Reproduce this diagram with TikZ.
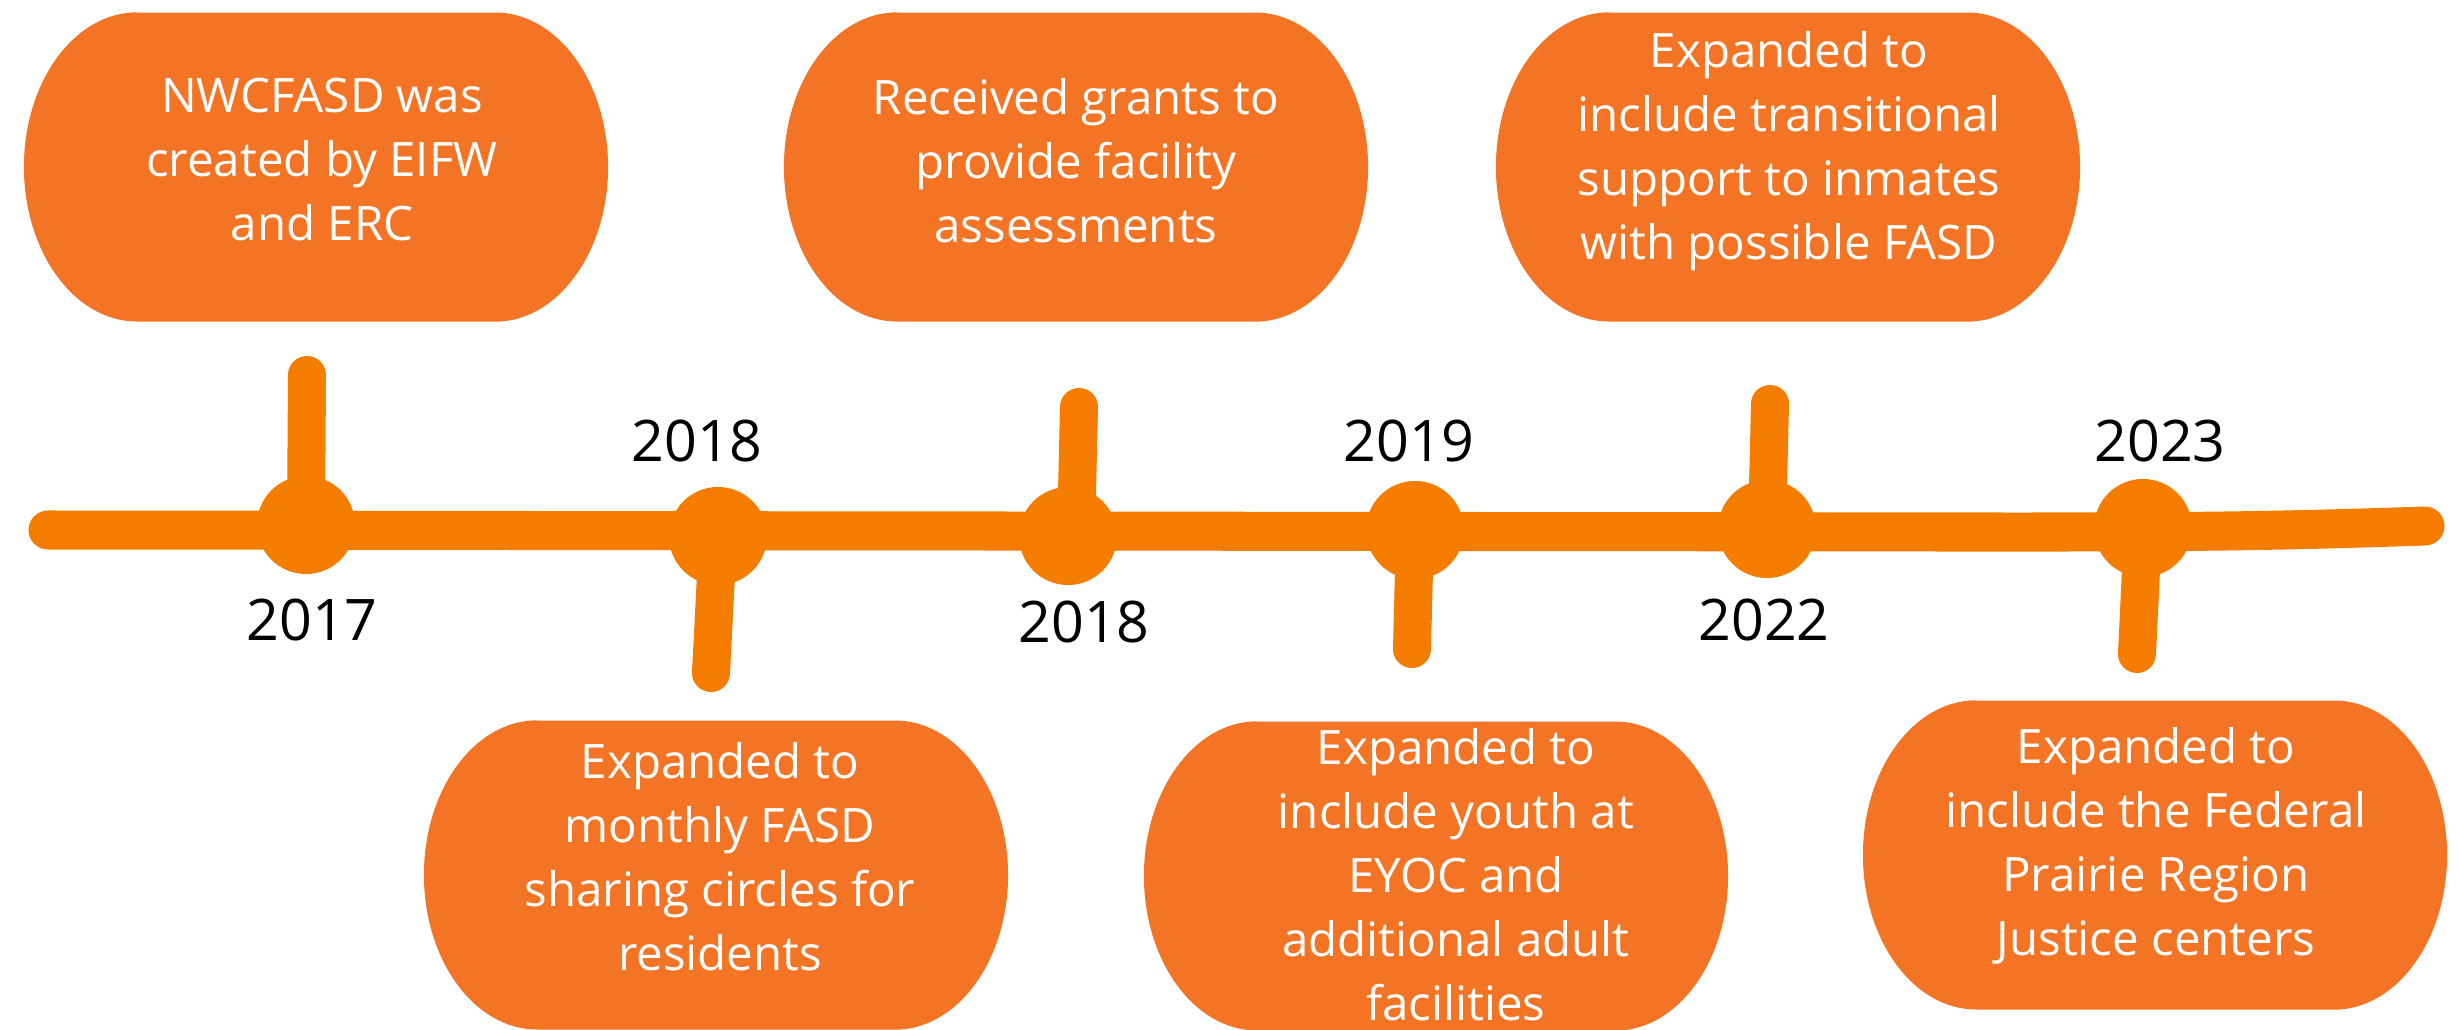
\documentclass[tikz,border=0pt]{standalone}
\usepackage{fontspec}
\setmainfont{Open Sans}
\definecolor{bubbleorange}{RGB}{242,116,36}
\definecolor{lineorange}{RGB}{244,125,0}
\tikzset{
	timeline/.style={line width=0.39cm, line cap=round, lineorange},
	tick/.style={line width=0.38cm, line cap=round, lineorange},
	dot/.style={circle, fill=lineorange, inner sep=0pt, minimum size=0.98cm},
	year/.style={font=\fontsize{16.3}{19}\selectfont, inner sep=0pt},
	bubbletext/.style={white, align=center, inner sep=0pt, font=\fontsize{13.5}{18.2}\selectfont,
		execute at begin node=\strut, execute at end node=\strut},
}
\begin{document}
\begin{tikzpicture}[x=0.01cm, y=0.01cm]
	\useasboundingbox (0,0) rectangle (2459,1029);
	\clip (0,0) rectangle (2459,1029);
	\foreach \cx/\cy in {316/862, 1076/862, 1788/862, 716/154, 1436/153, 2155/174}
		\fill[bubbleorange] (\cx-179,\cy+154.5) -- (\cx+179,\cy+154.5)
			arc[start angle=90, end angle=-90, x radius=1.13cm, y radius=1.545cm]
			-- (\cx-179,\cy-154.5)
			arc[start angle=270, end angle=90, x radius=1.13cm, y radius=1.545cm] -- cycle;
	\node[bubbletext] (n2017) at (322,860) {NWCFASD was\\created by EIFW\\and ERC};
	\node[bubbletext] (n2018b) at (1076,859) {Received grants to\\provide facility\\assessments};
	\node[bubbletext] (n2022) at (1789,874) {Expanded to\\include transitional\\support to inmates\\with possible FASD};
	\node[bubbletext] (n2018a) at (720,163) {Expanded to\\monthly FASD\\sharing circles for\\residents};
	\node[bubbletext] (n2019) at (1456,145) {Expanded to\\include youth at\\EYOC and\\additional adult\\facilities};
	\node[bubbletext] (n2023) at (2156,178) {Expanded to\\include the Federal\\Prairie Region\\Justice centers};
	\coordinate (lineL) at (48,499);
	\coordinate (lineM) at (1950,497);
	\coordinate (lineR) at (2425,503);
	\draw[timeline] (lineL) -- (lineM) to[out=0, in=182] (lineR);
	\node[dot] (d2017) at (306,504) {};
	\node[dot] (d2018a) at (718,493) {};
	\node[dot] (d2018b) at (1068,493) {};
	\node[dot] (d2019) at (1415,499) {};
	\node[dot] (d2022) at (1767,500) {};
	\node[dot] (d2023) at (2143,501) {};
	\coordinate (t2017) at (307,654);
	\coordinate (t2018a) at (711,356);
	\coordinate (t2018b) at (1079,622);
	\coordinate (t2019) at (1412,380);
	\coordinate (t2022) at (1770,625);
	\coordinate (t2023) at (2137,375);
	\draw[tick] (d2017.center) -- (t2017);
	\draw[tick] (d2018a.center) -- (t2018a);
	\draw[tick] ([xshift=0.08cm]d2018b.center) -- (t2018b);
	\draw[tick] (d2019.center) -- (t2019);
	\draw[tick] (d2022.center) -- (t2022);
	\draw[tick] (d2023.center) -- (t2023);
	\node[year] (y2017) at (312,409) {2017};
	\node[year] (y2018a) at (697,588) {2018};
	\node[year] (y2018b) at (1084,407) {2018};
	\node[year] (y2019) at (1409,588) {2019};
	\node[year] (y2022) at (1764,409) {2022};
	\node[year] (y2023) at (2160,588) {2023};
\end{tikzpicture}
\end{document}
